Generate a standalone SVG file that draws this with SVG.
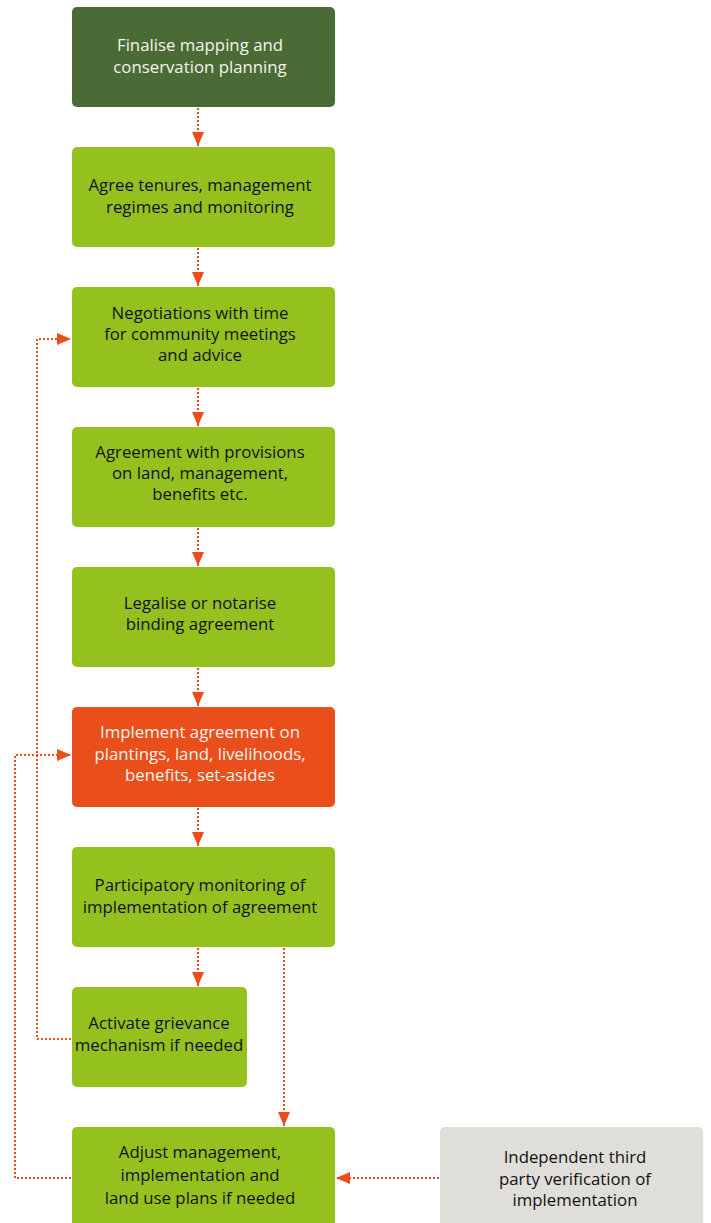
<svg xmlns="http://www.w3.org/2000/svg" width="711" height="1223" viewBox="0 0 711 1223">
<defs>
<style>
.box rect{stroke:none}
.g rect{fill:#95c11f}
.dg rect{fill:#4a6b35}
.or rect{fill:#e94e1b}
.gy rect{fill:#e0ded8}
text{font-family:"Open Sans","Liberation Sans",sans-serif;font-size:16.8px;text-anchor:middle;fill:#111}
.dg text,.or text{fill:#f4f4ee}
.c path{fill:none;stroke:#e94e1b;stroke-width:2;stroke-dasharray:2 2}
</style>
<marker id="ah" viewBox="0 0 14 12" refX="14" refY="6" markerWidth="14" markerHeight="12" markerUnits="userSpaceOnUse" orient="auto">
<path d="M0,0 L14,6 L0,12 Z" fill="#e94e1b"/>
</marker>
</defs>
<g id="n1" class="box dg"><rect x="72" y="7" width="263" height="100" rx="5"/>
<text x="200" y="51">Finalise mapping and</text><text x="200" y="73">conservation planning</text></g>
<g id="n2" class="box g"><rect x="72" y="147" width="263" height="100" rx="5"/>
<text x="200" y="191">Agree tenures, management</text><text x="200" y="213">regimes and monitoring</text></g>
<g id="n3" class="box g"><rect x="72" y="287" width="263" height="100" rx="5"/>
<text x="200" y="319">Negotiations with time</text><text x="200" y="340">for community meetings</text><text x="200" y="361">and advice</text></g>
<g id="n4" class="box g"><rect x="72" y="427" width="263" height="100" rx="5"/>
<text x="200" y="458">Agreement with provisions</text><text x="200" y="479">on land, management,</text><text x="200" y="500">benefits etc.</text></g>
<g id="n5" class="box g"><rect x="72" y="567" width="263" height="100" rx="5"/>
<text x="200" y="609">Legalise or notarise</text><text x="200" y="630">binding agreement</text></g>
<g id="n6" class="box or"><rect x="72" y="707" width="263" height="100" rx="5"/>
<text x="200" y="738">Implement agreement on</text><text x="200" y="760">plantings, land, livelihoods,</text><text x="200" y="781">benefits, set-asides</text></g>
<g id="n7" class="box g"><rect x="72" y="847" width="263" height="100" rx="5"/>
<text x="200" y="891">Participatory monitoring of</text><text x="200" y="913">implementation of agreement</text></g>
<g id="n8" class="box g"><rect x="72" y="987" width="175" height="100" rx="5"/>
<text x="159" y="1029">Activate grievance</text><text x="159" y="1051">mechanism if needed</text></g>
<g id="n9" class="box g"><rect x="72" y="1127" width="263" height="104" rx="5"/>
<text x="200" y="1158">Adjust management,</text><text x="200" y="1181">implementation and</text><text x="200" y="1204">land use plans if needed</text></g>
<g id="n10" class="box gy"><rect x="440" y="1127" width="263" height="104" rx="5"/>
<text x="575" y="1163">Independent third</text><text x="575" y="1185">party verification of</text><text x="575" y="1206">implementation</text></g>
<g id="connectors" class="c">
<path d="M198,108 V146" marker-end="url(#ah)"/>
<path d="M198,248 V286" marker-end="url(#ah)"/>
<path d="M198,388 V426" marker-end="url(#ah)"/>
<path d="M198,528 V566" marker-end="url(#ah)"/>
<path d="M198,668 V706" marker-end="url(#ah)"/>
<path d="M198,808 V846" marker-end="url(#ah)"/>
<path d="M198,948 V986" marker-end="url(#ah)"/>
<path d="M284,948 V1126" marker-end="url(#ah)"/>
<path d="M71,1039 H37 V339 H71" marker-end="url(#ah)"/>
<path d="M71,1178 H15 V755 H71" marker-end="url(#ah)"/>
<path d="M439,1178 H336" marker-end="url(#ah)"/>
</g>
</svg>
